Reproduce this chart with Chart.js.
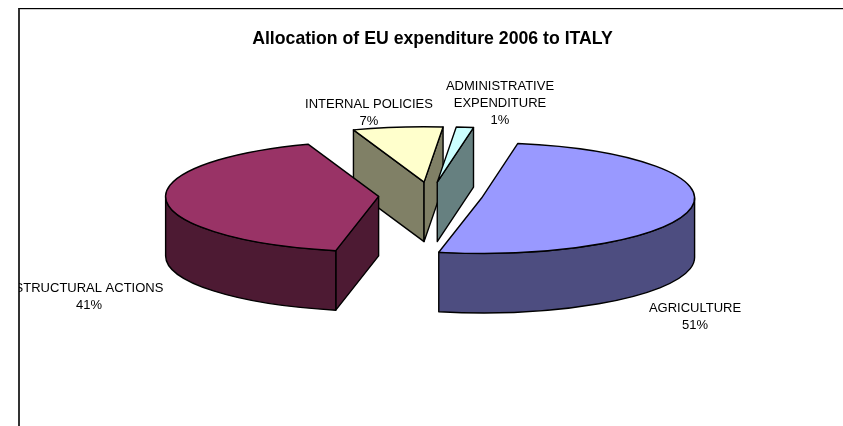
<!DOCTYPE html>
<html>
<head>
<meta charset="utf-8">
<title>Allocation of EU expenditure 2006 to ITALY</title>
<script src="https://cdn.jsdelivr.net/npm/chart.js@4"></script>
<style>
	html, body { margin: 0; padding: 0; background: #fff; overflow: hidden; }
	#frame { position: absolute; left: 18px; top: 8px; width: 840px; height: 430px; border-left: 2px solid #333; border-top: 1px solid #000; box-shadow: inset 0 1px 0 #ccc; }
	#chart { position: absolute; left: 19px; top: 9px; }
</style>
</head>
<body>
<div id="frame"></div>
<canvas id="chart" width="827" height="417"></canvas>
<script>
// values, the labels round them to 51 / 41 / 7 / 1
var categories = ['AGRICULTURE', 'STRUCTURAL ACTIONS', 'INTERNAL POLICIES', 'ADMINISTRATIVE EXPENDITURE'];
var shares = [50.5, 41.4, 6.8, 1.3];
var topColors = ['#9999FF', '#993366', '#FFFFCC', '#CCFFFF'];
var wallColors = ['#4D4D80', '#4D1A33', '#808066', '#668080'];

// label centres in canvas px, one per category
var labelX = [676, 70, 350, 481];
var labelY = [307.5, 287.5, 103.5, 94];
var labelLines = [['AGRICULTURE'], ['STRUCTURAL ACTIONS'], ['INTERNAL POLICIES'], ['ADMINISTRATIVE', 'EXPENDITURE']];

var SQUASH = 0.26;		// how flat the pie is seen
var DEPTH = 59.5;		// height of the walls
var PIE_NUDGE = -2;		// the title sits a little right of the pie centre
var TWO_PI = Math.PI * 2;

function wallQuad(ctx, cx, cy, r, a) {
	var ry = r * SQUASH;
	ctx.beginPath();
	ctx.moveTo(cx, cy);
	ctx.lineTo(cx + Math.cos(a) * r, cy + Math.sin(a) * ry);
	ctx.lineTo(cx + Math.cos(a) * r, cy + Math.sin(a) * ry + DEPTH);
	ctx.lineTo(cx, cy + DEPTH);
	ctx.closePath();
	ctx.fill();
	ctx.stroke();
}

function outerWall(ctx, cx, cy, r, start, end) {
	// only the part of the rim that faces the viewer, sin(a) > 0
	var ry = r * SQUASH;
	for (var k = -1; k <= 1; k++) {
		var a0 = Math.max(start, k * TWO_PI);
		var a1 = Math.min(end, k * TWO_PI + Math.PI);
		if (a1 <= a0) continue;
		ctx.beginPath();
		ctx.ellipse(cx, cy, r, ry, 0, a0, a1);
		ctx.ellipse(cx, cy + DEPTH, r, ry, 0, a1, a0, true);
		ctx.closePath();
		ctx.fill();
		ctx.stroke();
	}
}

var pie3d = {
	id: 'pie3d',
	beforeDatasetsDraw: function (chart) {
		var ctx = chart.ctx;
		var meta = chart.getDatasetMeta(0);
		var midY = (chart.chartArea.top + chart.chartArea.bottom) / 2;

		// back slices first
		var order = meta.data.map(function (el, i) { return i; }).sort(function (p, q) {
			var pm = (meta.data[p].startAngle + meta.data[p].endAngle) / 2;
			var qm = (meta.data[q].startAngle + meta.data[q].endAngle) / 2;
			return Math.sin(pm) - Math.sin(qm);
		});

		ctx.save();
		ctx.lineWidth = 1.4;
		ctx.strokeStyle = '#000';
		ctx.lineJoin = 'round';
		order.forEach(function (i) {
			var el = meta.data[i];
			var mid = (el.startAngle + el.endAngle) / 2;
			var off = el.options.offset;
			var r = el.outerRadius;
			var cx = el.x + PIE_NUDGE + Math.cos(mid) * off;
			var cy = midY + Math.sin(mid) * off * SQUASH;

			ctx.fillStyle = wallColors[i];
			if (Math.cos(el.startAngle) < 0) wallQuad(ctx, cx, cy, r, el.startAngle);
			if (Math.cos(el.endAngle) > 0) wallQuad(ctx, cx, cy, r, el.endAngle);
			outerWall(ctx, cx, cy, r, el.startAngle, el.endAngle);

			ctx.fillStyle = el.options.backgroundColor;
			ctx.beginPath();
			ctx.moveTo(cx, cy);
			ctx.ellipse(cx, cy, r, r * SQUASH, 0, el.startAngle, el.endAngle);
			ctx.closePath();
			ctx.fill();
			ctx.stroke();
		});

		// data labels
		var total = shares.reduce(function (a, b) { return a + b; }, 0);
		ctx.font = '13px "Liberation Sans", Arial, sans-serif';
		ctx.fillStyle = '#000';
		ctx.textAlign = 'center';
		ctx.textBaseline = 'middle';
		labelLines.forEach(function (lines, i) {
			var rows = lines.concat([Math.round(shares[i] / total * 100) + '%']);
			rows.forEach(function (txt, n) {
				ctx.fillText(txt, labelX[i], labelY[i] + (n - (rows.length - 1) / 2) * 17);
			});
		});
		ctx.restore();
		return false;
	}
};

new Chart(document.getElementById('chart'), {
	type: 'pie',
	data: {
		labels: categories,
		datasets: [{
			data: shares,
			backgroundColor: topColors,
			borderColor: '#000',
			borderWidth: 1,
			offset: 52
		}]
	},
	options: {
		responsive: false,
		animation: false,
		rotation: 9.8,
		radius: 213,
		layout: { padding: { bottom: 93.6 } },
		plugins: {
			legend: { display: false },
			tooltip: { enabled: false },
			title: {
				display: true,
				text: 'Allocation of EU expenditure 2006 to ITALY',
				color: '#000',
				font: { family: '"Liberation Sans", Arial, sans-serif', size: 17.7, weight: 'bold' },
				padding: { top: 19.4, bottom: 9 }
			}
		}
	},
	plugins: [pie3d]
});
</script>
</body>
</html>
